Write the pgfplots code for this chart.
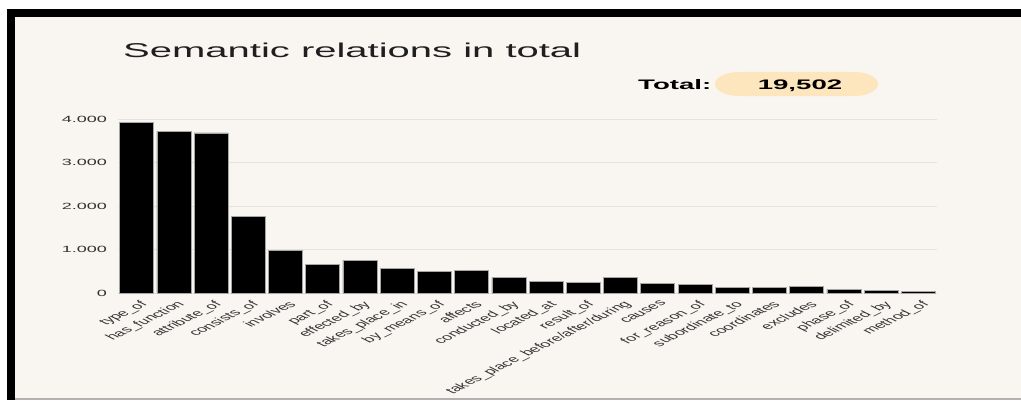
\documentclass[border=0pt]{standalone}
\usepackage{fontspec}
\setmainfont{Liberation Sans}
\newfontfamily\wide{Liberation Sans}[FakeStretch=2]
\usepackage{pgfplots}
\usepackage{pgfplotstable}
\pgfplotsset{compat=1.18}
\definecolor{bg}{HTML}{F9F6F1}
\definecolor{gridc}{HTML}{E6E3DE}
\definecolor{pill}{HTML}{FDE5BD}
\definecolor{txt}{HTML}{333333}

\pgfplotstableread{
idx val
0 3920
1 3720
2 3680
3 1755
4 985
5 656
6 748
7 573
8 496
9 519
10 359
11 260
12 244
13 366
14 221
15 191
16 137
17 130
18 160
19 92
20 61
21 38
}\datatable

\begin{document}
\begin{tikzpicture}[x=1pt,y=1pt]
\useasboundingbox (0,0) rectangle (1021,400);
\fill[white] (0,0) rectangle (1021,400);
\fill[bg] (15,2) rectangle (1021,383);
\fill[black] (7,0) rectangle (15,391);
\fill[black] (7,383) rectangle (1021,391);
\fill[gray!60] (15,0) rectangle (1021,2);
\node[anchor=base west, font=\wide\fontsize{20}{24}\selectfont, text=black!88, inner sep=0pt] at (123,342) {Semantic relations in total};
\fill[pill] (739,304) -- (854,304) arc[start angle=-90, end angle=90, x radius=24, y radius=12] -- (739,328) arc[start angle=90, end angle=270, x radius=24, y radius=12] -- cycle;
\node[anchor=base west, font=\wide\bfseries\fontsize{13.8}{16}\selectfont, inner sep=0pt] at (638,311) {Total:};
\node[anchor=base, font=\wide\bfseries\fontsize{13.8}{16}\selectfont, inner sep=0pt] at (800,311) {19,502};
\begin{axis}[
  at={(118pt,107pt)}, anchor=south west,
  width=819pt, height=174pt, scale only axis,
  ymin=0, ymax=4000, xmin=-0.5, xmax=21.5,
  axis line style={draw=none}, major tick length=0pt,
  ymajorgrids, major grid style={gridc, line width=0.8pt},
  ytick={0,1000,2000,3000,4000},
  scaled y ticks=false,
  /pgf/number format/1000 sep={.},
  /pgf/number format/assume math mode=true,
  yticklabel style={font=\wide\fontsize{9}{10}\selectfont, text=txt, anchor=east, inner sep=0pt, xshift=-11pt},
  xtick={0,...,21},
  xticklabels={type\_of, has\_function, attribute\_of, consists\_of, involves, part\_of, effected\_by, takes\_place\_in, by\_means\_of, affects, conducted\_by, located\_at, result\_of, takes\_place\_before/after/during, causes, for\_reason\_of, subordinate\_to, coordinates, excludes, phase\_of, delimited\_by, method\_of},
  xticklabel style={font=\fontsize{9}{10}\selectfont, text=txt, inner sep=0pt, anchor=north east, xshift=2pt, yshift=-7pt, xscale=2, rotate=45},
  ybar, bar width=34pt, bar shift=0pt,
  clip=false,
]
\addplot[fill=black, draw=gray!70, line width=0.6pt] table[x=idx, y=val]{\datatable};
\end{axis}
\end{tikzpicture}
\end{document}
